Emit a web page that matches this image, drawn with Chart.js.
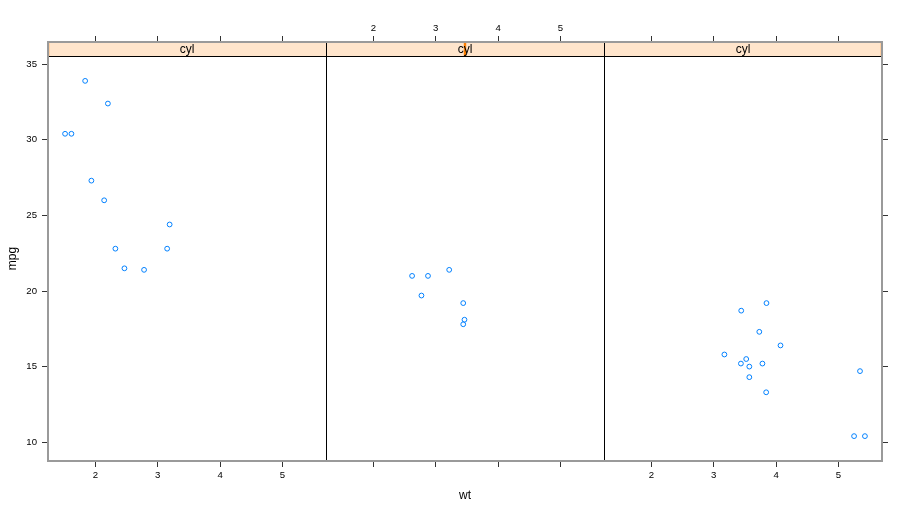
<!DOCTYPE html>
<html>
<head>
<meta charset="utf-8">
<script src="https://cdn.jsdelivr.net/npm/chart.js@4/dist/chart.umd.min.js"></script>
<style>
  html, body { margin: 0; padding: 0; background: #ffffff; }
  #wrap { position: relative; width: 912px; height: 512px; overflow: hidden; }
  #wrap canvas { position: absolute; left: 0; top: 0; }
</style>
</head>
<body>
<div id="wrap"></div>
<script>
// ---- data (mtcars: mpg ~ wt | cyl) ----
const cylLevels = [4, 6, 8];
const wt4  = [2.320, 3.190, 3.150, 2.200, 1.615, 1.835, 2.465, 1.935, 2.140, 1.513, 2.780];
const mpg4 = [22.8, 24.4, 22.8, 32.4, 30.4, 33.9, 21.5, 27.3, 26.0, 30.4, 21.4];
const wt6  = [2.620, 2.875, 3.215, 3.460, 3.440, 3.440, 2.770];
const mpg6 = [21.0, 21.0, 21.4, 18.1, 19.2, 17.8, 19.7];
const wt8  = [3.440, 3.570, 4.070, 3.730, 3.780, 5.250, 5.424, 5.345, 3.520, 3.435, 3.840, 3.845, 3.170, 3.570];
const mpg8 = [18.7, 14.3, 16.4, 17.3, 15.2, 10.4, 10.4, 14.7, 15.5, 15.2, 13.3, 19.2, 15.8, 15.0];
const xTicks = [2, 3, 4, 5];
const yTicks = [10, 15, 20, 25, 30, 35];
const stripLabel = 'cyl';
const xTitle = 'wt';
const yTitle = 'mpg';

const wts = [wt4, wt6, wt8];
const mpgs = [mpg4, mpg6, mpg8];

// axis limits like lattice extendrange (7%)
function extRange(arr) {
  const lo = Math.min(...arr), hi = Math.max(...arr), d = (hi - lo) * 0.07;
  return [lo - d, hi + d];
}
const [xlo, xhi] = extRange([].concat(wt4, wt6, wt8));
const [ylo, yhi] = extRange([].concat(mpg4, mpg6, mpg8));

// ---- layout ----
const W = 912, H = 512;
const PL = 48, PW = 278;          // panel left, panel width
const PT = 56, PB = 461;          // panel top/bottom
const ST = 42;                    // strip top
const FONT = "'Liberation Sans', Arial, Helvetica, sans-serif";
Chart.defaults.font.family = FONT;

const stripPlugin = {
  id: 'strip',
  afterDraw(chart, args, opts) {
    const i = opts.index;
    const ctx = chart.ctx;
    const ca = chart.chartArea;
    const L = ca.left, R = ca.right;
    ctx.save();
    // strip background
    ctx.fillStyle = '#ffe5cc';
    ctx.fillRect(L, ST, R - L, PT - ST);
    // level indicator (shingle-style position of this level in the cyl range)
    const lo = Math.min(...cylLevels), hi = Math.max(...cylLevels);
    const pos = L + (cylLevels[i] - lo) / (hi - lo) * (R - L);
    ctx.fillStyle = '#ff7f00';
    const a = Math.max(L, pos - 1.2), b = Math.min(R, pos + 1.2);
    ctx.fillRect(a, ST, b - a, PT - ST);
    // strip text
    ctx.fillStyle = '#000000';
    ctx.font = '12px ' + FONT;
    ctx.textAlign = 'center';
    ctx.textBaseline = 'middle';
    ctx.fillText(stripLabel, (L + R) / 2, (ST + PT) / 2 + 0.5);
    // black panel + strip borders
    ctx.strokeStyle = '#000000';
    ctx.lineWidth = 1;
    ctx.beginPath();
    ctx.moveTo(L + 0.5, ST); ctx.lineTo(L + 0.5, PB);
    ctx.moveTo(R + 0.5, ST); ctx.lineTo(R + 0.5, PB);
    ctx.moveTo(L, PT + 0.5); ctx.lineTo(R, PT + 0.5);
    ctx.stroke();
    // outer gray frame
    ctx.strokeStyle = '#9a9a9a';
    ctx.lineWidth = 2;
    ctx.beginPath();
    ctx.moveTo(L - 1, ST); ctx.lineTo(R + 1, ST);
    ctx.moveTo(L - 1, PB); ctx.lineTo(R + 1, PB);
    if (i === 0) { ctx.moveTo(L, ST); ctx.lineTo(L, PB); }
    if (i === 2) { ctx.moveTo(R, ST); ctx.lineTo(R, PB); }
    ctx.stroke();
    ctx.restore();
  }
};

function tickSetter(vals) {
  return function (scale) { scale.ticks = vals.map(v => ({ value: v })); };
}

const TICKCOL = '#333333';
const wrap = document.getElementById('wrap');

for (let i = 0; i < 3; i++) {
  const left = PL + PW * i, right = left + PW;
  const cv = document.createElement('canvas');
  cv.width = W; cv.height = H;
  cv.style.width = W + 'px'; cv.style.height = H + 'px';
  wrap.appendChild(cv);

  const pts = wts[i].map((w, k) => ({ x: w, y: mpgs[i][k] }));

  new Chart(cv, {
    type: 'scatter',
    data: {
      datasets: [{
        data: pts,
        pointStyle: 'circle',
        pointRadius: 2.4,
        pointHoverRadius: 2.4,
        borderColor: '#0080ff',
        pointBorderColor: '#0080ff',
        backgroundColor: 'rgba(0,0,0,0)',
        pointBackgroundColor: 'rgba(0,0,0,0)',
        pointBorderWidth: 1,
        borderWidth: 1
      }]
    },
    options: {
      responsive: false,
      animation: false,
      events: [],
      devicePixelRatio: 1,
      layout: {
        padding: {
          left: i === 0 ? 0 : left,
          right: i === 2 ? 0 : W - right,
          top: 0,
          bottom: 0
        }
      },
      plugins: {
        legend: { display: false },
        tooltip: { enabled: false },
        strip: { index: i }
      },
      scales: {
        x: {
          type: 'linear', position: 'bottom', min: xlo, max: xhi,
          afterBuildTicks: tickSetter(xTicks),
          afterFit: s => { s.height = H - PB; },
          grid: { drawOnChartArea: false, drawTicks: true, tickLength: 6, color: TICKCOL, lineWidth: 1 },
          border: { display: false },
          ticks: { display: i !== 1, color: '#000', font: { size: 9.6 }, padding: 3, maxRotation: 0, autoSkip: false },
          title: i === 1
            ? { display: true, text: xTitle, color: '#000', font: { size: 12 }, padding: { top: 0, bottom: 9 } }
            : { display: false }
        },
        x2: {
          type: 'linear', position: 'top', min: xlo, max: xhi,
          afterBuildTicks: tickSetter(xTicks),
          afterFit: s => { s.height = PT; },
          grid: { drawOnChartArea: false, drawTicks: true, tickLength: PT - ST + 6, color: TICKCOL, lineWidth: 1 },
          border: { display: false },
          ticks: { display: i === 1, color: '#000', font: { size: 9.6 }, padding: 2, maxRotation: 0, autoSkip: false }
        },
        y: {
          type: 'linear', position: 'left', min: ylo, max: yhi,
          display: i === 0,
          afterBuildTicks: tickSetter(yTicks),
          afterFit: s => { s.width = (i === 0) ? PL : 0; },
          grid: { drawOnChartArea: false, drawTicks: true, tickLength: 6, color: TICKCOL, lineWidth: 1 },
          border: { display: false },
          ticks: { color: '#000', font: { size: 9.6 }, padding: 5, autoSkip: false },
          title: { display: true, text: yTitle, color: '#000', font: { size: 12 }, padding: { top: 5, bottom: 0 } }
        },
        y2: {
          type: 'linear', position: 'right', min: ylo, max: yhi,
          display: i === 2,
          afterBuildTicks: tickSetter(yTicks),
          afterFit: s => { s.width = (i === 2) ? W - (PL + 3 * PW) : 0; },
          grid: { drawOnChartArea: false, drawTicks: true, tickLength: 6, color: TICKCOL, lineWidth: 1 },
          border: { display: false },
          ticks: { display: false, autoSkip: false }
        }
      }
    },
    plugins: [stripPlugin]
  });
}
</script>
</body>
</html>
